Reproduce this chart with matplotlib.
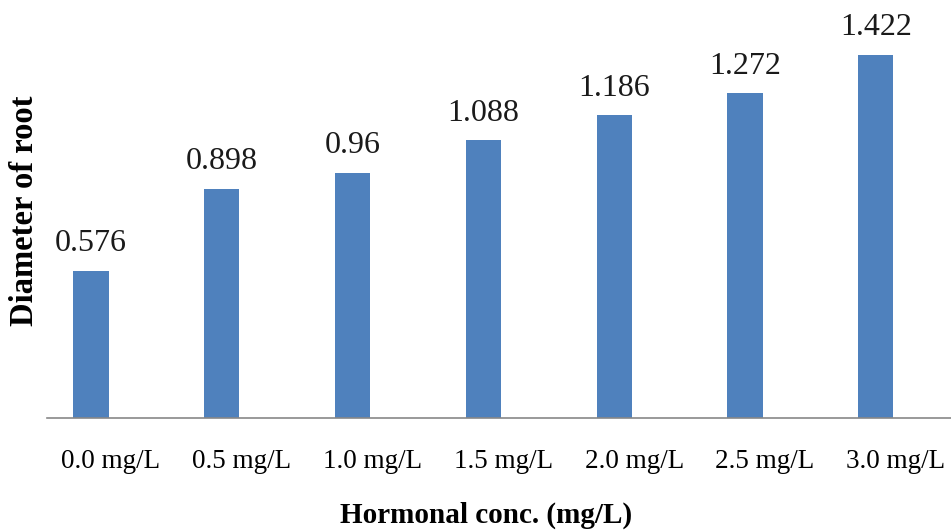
# Диаметр корня при разной концентрации гормона
import matplotlib.pyplot as plt
from matplotlib.transforms import ScaledTranslation

categories = ["0.0 mg/L", "0.5 mg/L", "1.0 mg/L", "1.5 mg/L", "2.0 mg/L", "2.5 mg/L", "3.0 mg/L"]
diameter = [0.576, 0.898, 0.96, 1.088, 1.186, 1.272, 1.422]
value_labels = ["0.576", "0.898", "0.96", "1.088", "1.186", "1.272", "1.422"]

plt.rcParams["font.family"] = ["Liberation Serif", "DejaVu Serif"]

W, H = 951, 532
fig = plt.figure(figsize=(W / 100, H / 100), dpi=100)
ax = fig.add_axes([47 / W, (H - 418) / H, (W - 47) / W, 418 / H])

x = range(len(categories))
bars = ax.bar(x, diameter, width=0.27, color="#4F81BD")

for b, lab in zip(bars, value_labels):
    ax.annotate(lab, (b.get_x() + b.get_width() / 2, b.get_height()),
                xytext=(0, 9), textcoords="offset points",
                ha="center", va="bottom", fontsize=23, color="#1a1a1a")

ax.set_xlim(-0.336, 6.575)
ax.set_ylim(0, 1.637)
ax.set_xticks(list(x))
ax.set_xticklabels(categories, fontsize=19.5)
ax.tick_params(axis="x", length=0, pad=22)
# подписи категорий в оригинале чуть смещены вправо
shift = ScaledTranslation(0.2, 0, fig.dpi_scale_trans)
for t in ax.get_xticklabels():
    t.set_transform(t.get_transform() + shift)
ax.set_yticks([])
for s in ["top", "right", "left"]:
    ax.spines[s].set_visible(False)
ax.spines["bottom"].set_color("#888888")
ax.spines["bottom"].set_linewidth(1.2)

fig.text(25 / W, 1 - 211 / H, "Diameter of root", rotation=90, ha="center", va="center",
         fontsize=23.5, fontweight="bold")
fig.text(486 / W, 1 - 515 / H, "Hormonal conc. (mg/L)", ha="center", va="center",
         fontsize=21, fontweight="bold")

fig.savefig("out.png", dpi=100)
